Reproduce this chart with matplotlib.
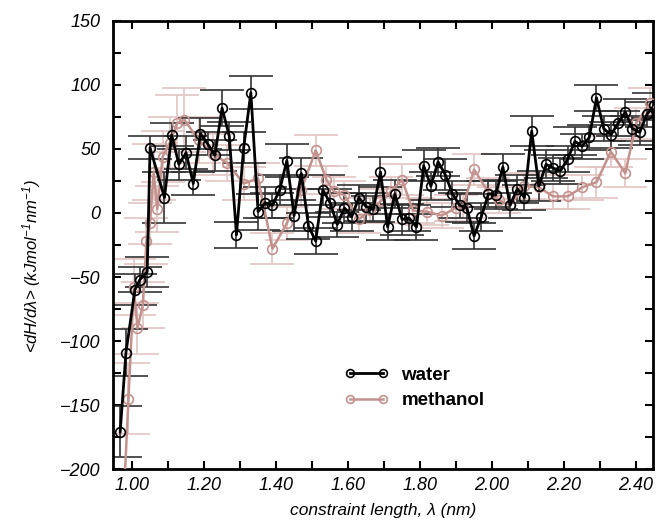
import matplotlib
matplotlib.use("Agg")
import matplotlib.pyplot as plt
from matplotlib.ticker import MultipleLocator

plt.rcParams['font.family'] = ['Liberation Sans', 'DejaVu Sans']
plt.rcParams['mathtext.fontset'] = 'custom'
plt.rcParams['mathtext.rm'] = 'Liberation Sans:italic'
plt.rcParams['mathtext.it'] = 'Liberation Sans:italic'

# water: constraint length (nm), <dH/dlambda>, error
water_x = [0.967, 0.983, 1.008, 1.022, 1.042,
           1.05, 1.09, 1.11, 1.13, 1.15, 1.17, 1.19, 1.21, 1.23, 1.25,
           1.27, 1.29, 1.31, 1.33, 1.35, 1.37, 1.39, 1.41, 1.43, 1.45,
           1.47, 1.49, 1.51, 1.53, 1.55, 1.57, 1.59, 1.61, 1.63, 1.65,
           1.67, 1.69, 1.71, 1.73, 1.75, 1.77, 1.79, 1.81, 1.83, 1.85,
           1.87, 1.89, 1.91, 1.93, 1.95, 1.97, 1.99, 2.01, 2.03, 2.05,
           2.07, 2.09, 2.11, 2.13, 2.15, 2.17, 2.19, 2.21, 2.23, 2.25,
           2.27, 2.29, 2.31, 2.33, 2.35, 2.37, 2.39, 2.41, 2.43, 2.45]
water_y = [-171, -109, -60, -52, -46,
           51, 12, 61, 38, 47, 23, 62, 54, 45, 82,
           60, -17, 51, 94, 1, 8, 6, 18, 41, -2,
           31, -10, -22, 18, 8, -9, 4, -3, 12, 5,
           3, 32, -11, 15, -5, -4, -11, 37, 21, 40,
           30, 15, 6, 4, -18, -3, 15, 14, 36, 6,
           19, 12, 64, 21, 38, 35, 33, 42, 56, 52,
           59, 90, 66, 61, 70, 79, 66, 63, 77, 84]
water_err = [20, 18, 12, 10, 12,
             9, 20, 9, 12, 13, 9, 12, 9, 12, 14,
             11, 10, 12, 13, 14, 12, 10, 12, 13, 12,
             12, 10, 10, 12, 11, 10, 12, 11, 10, 11,
             10, 12, 10, 11, 12, 10, 10, 12, 11, 11,
             12, 10, 10, 11, 10, 11, 10, 11, 10, 10,
             11, 10, 12, 12, 11, 10, 10, 10, 11, 10,
             10, 10, 10, 10, 10, 10, 10, 10, 10, 10]

# methanol
meth_x = [0.975, 0.99, 1.005, 1.015, 1.03, 1.04, 1.05, 1.06, 1.07, 1.085,
          1.105, 1.125, 1.145, 1.185, 1.225, 1.265, 1.31, 1.35, 1.39, 1.43,
          1.47, 1.51, 1.54, 1.56, 1.59, 1.63, 1.66, 1.69, 1.72, 1.75,
          1.78, 1.82, 1.86, 1.90, 1.92, 1.95, 1.99, 2.02, 2.05, 2.09,
          2.13, 2.17, 2.21, 2.25, 2.29, 2.33, 2.37, 2.40, 2.44]
meth_y = [-235, -145, -58, -90, -72, -22, -8, 32, 3, 44,
          55, 70, 73, 57, 46, 39, 23, 27, -28, -8,
          18, 49, 26, 17, 14, -5, 2, 9, 17, 26,
          2, 1, -2, 4, 6, 34, 16, 10, 6, 21,
          20, 13, 13, 20, 24, 48, 31, 70, 86]
meth_err = [30, 28, 22, 20, 18, 18, 16, 22, 18, 20,
            20, 22, 25, 18, 16, 14, 13, 12, 12, 13,
            12, 12, 11, 11, 11, 11, 10, 10, 11, 12,
            10, 10, 10, 10, 10, 12, 11, 10, 10, 10,
            10, 10, 10, 10, 12, 12, 11, 12, 12]

fig = plt.figure(figsize=(6.58, 5.21), dpi=100)
ax = fig.add_axes([0.1717, 0.0998, 0.8207, 0.8599])

meth_col = '#c4928e'
meth_bar = '#e2c5c3'

ax.errorbar(meth_x, meth_y, yerr=meth_err, fmt='none', ecolor=meth_bar,
            elinewidth=1.2, capsize=16, capthick=1.2, zorder=1)
ax.errorbar(water_x, water_y, yerr=water_err, fmt='none', ecolor='#333333',
            elinewidth=1.2, capsize=16, capthick=1.2, zorder=2)
l_meth, = ax.plot(meth_x, meth_y, color=meth_col, lw=1.8, marker='o', ms=7,
                  mfc='none', mec=meth_col, mew=1.2, zorder=3)
l_water, = ax.plot(water_x, water_y, color='black', lw=2, marker='o', ms=7,
                   mfc='none', mec='black', mew=1.2, zorder=4)

ax.set_xlim(0.947, 2.447)
ax.set_ylim(-200, 150)
ax.xaxis.set_major_locator(MultipleLocator(0.2))
ax.xaxis.set_minor_locator(MultipleLocator(0.1))
ax.yaxis.set_major_locator(MultipleLocator(50))
ax.yaxis.set_minor_locator(MultipleLocator(25))
ax.xaxis.set_major_formatter(plt.FuncFormatter(lambda v, p: f'{v:.2f}'))
ax.tick_params(which='both', direction='in', top=True, right=True,
               length=6, width=1.5)
ax.tick_params(axis='y', pad=9, labelsize=13)
ax.tick_params(axis='x', pad=6, labelsize=13)
for lab in ax.get_xticklabels() + ax.get_yticklabels():
    lab.set_fontstyle('italic')
for s in ax.spines.values():
    s.set_linewidth(2)

ax.set_xlabel('constraint length, λ (nm)', fontsize=12.5, style='italic', labelpad=6)
ax.set_ylabel('<dH/dλ> (kJmol$^{-1}$nm$^{-1}$)', fontsize=12, style='italic')
ax.yaxis.set_label_coords(-0.13, 0.453)

ax.legend([l_water, l_meth], ['water', 'methanol'], loc='upper left',
          bbox_to_anchor=(0.428, 0.229), frameon=False, numpoints=2,
          markerscale=0.8, handlelength=2.4, handletextpad=0.65, borderpad=0,
          borderaxespad=0, labelspacing=0.45,
          prop={'weight': 'bold', 'size': 13.5})

fig.savefig('out.png', dpi=100)
